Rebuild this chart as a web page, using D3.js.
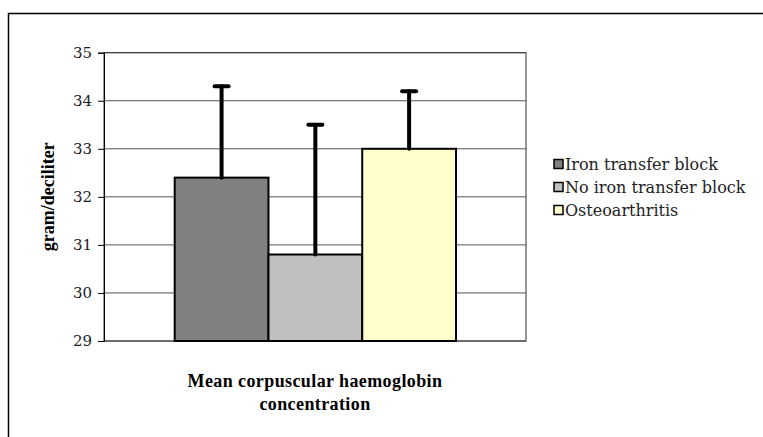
<!DOCTYPE html>
<html>
<head>
<meta charset="utf-8">
<script src="https://cdn.jsdelivr.net/npm/d3@7"></script>
<style>
  body { margin: 0; background: #fff; }
  svg text { font-family: "Liberation Serif", "DejaVu Serif", serif; }
  svg text.reg { font-family: "DejaVu Serif", serif; }
</style>
</head>
<body>
<script>
// data
var groups = ["Iron transfer block", "No iron transfer block", "Osteoarthritis"];
var means = [32.4, 30.8, 33.0];
var upperErr = [34.3, 33.5, 34.2];
var fills = ["#808080", "#c0c0c0", "#ffffcc"];
var yTicks = [29, 30, 31, 32, 33, 34, 35];
var categoryLines = ["Mean corpuscular haemoglobin", "concentration"];

var width = 763, height = 437;
var plot = { left: 104, right: 526, top: 52.7, bottom: 341 };

var svg = d3.select("body").append("svg")
    .attr("width", width)
    .attr("height", height);

// outer chart frame (runs off the right and bottom edge)
svg.append("rect")
    .attr("x", 8.5).attr("y", 13.5)
    .attr("width", 800).attr("height", 500)
    .attr("fill", "#fff").attr("stroke", "#000").attr("stroke-width", 1.5);

var y = d3.scaleLinear().domain([29, 35]).range([plot.bottom, plot.top]);
var x = d3.scaleBand().domain(groups).range([174.7, 456]).padding(0);

// gridlines
svg.append("g").selectAll("line")
    .data(yTicks)
    .join("line")
    .attr("x1", plot.left).attr("x2", plot.right)
    .attr("y1", function (d) { return y(d); })
    .attr("y2", function (d) { return y(d); })
    .attr("stroke", "#555").attr("stroke-width", 1);

// plot border
svg.append("rect")
    .attr("x", plot.left).attr("y", plot.top)
    .attr("width", plot.right - plot.left).attr("height", plot.bottom - plot.top)
    .attr("fill", "none").attr("stroke", "#333").attr("stroke-width", 1);

// y axis
var yAxis = d3.axisLeft(y).tickValues(yTicks).tickFormat(d3.format("d")).tickSize(6).tickPadding(6);
var ya = svg.append("g")
    .attr("transform", "translate(" + plot.left + ",0)")
    .call(yAxis)
    .attr("font-family", null);
ya.select(".domain").attr("stroke", "#000");
ya.selectAll(".tick line").attr("stroke", "#000");
ya.selectAll(".tick text")
    .attr("class", "reg")
    .attr("font-size", 15)
    .attr("fill", "#222");

// bars
svg.append("g").selectAll("rect")
    .data(groups)
    .join("rect")
    .attr("x", function (d) { return x(d); })
    .attr("y", function (d, i) { return y(means[i]); })
    .attr("width", x.bandwidth())
    .attr("height", function (d, i) { return y(29) - y(means[i]); })
    .attr("fill", function (d, i) { return fills[i]; })
    .attr("stroke", "#000").attr("stroke-width", 2);

// error bars
var eb = svg.append("g")
    .attr("stroke", "#000").attr("stroke-width", 4).attr("stroke-linecap", "round");
groups.forEach(function (g, i) {
    var cx = x(g) + x.bandwidth() / 2;
    eb.append("line")
        .attr("x1", cx).attr("x2", cx)
        .attr("y1", y(means[i])).attr("y2", y(upperErr[i]));
    eb.append("line")
        .attr("x1", cx - 7).attr("x2", cx + 7)
        .attr("y1", y(upperErr[i])).attr("y2", y(upperErr[i]));
});

// y axis title
svg.append("text")
    .attr("transform", "translate(50," + ((plot.top + plot.bottom) / 2) + ") rotate(-90)")
    .attr("text-anchor", "middle")
    .attr("dominant-baseline", "middle")
    .attr("font-size", 18).attr("font-weight", "bold")
    .text("gram/deciliter");

// category label
svg.append("g").selectAll("text")
    .data(categoryLines)
    .join("text")
    .attr("x", (plot.left + plot.right) / 2)
    .attr("y", function (d, i) { return 387 + i * 23; })
    .attr("text-anchor", "middle")
    .attr("font-size", 18).attr("font-weight", "bold")
    .attr("letter-spacing", 0.4)
    .text(function (d) { return d; });

// legend
var legend = svg.append("g").attr("transform", "translate(554,0)");
var items = legend.selectAll("g")
    .data(groups)
    .join("g")
    .attr("transform", function (d, i) { return "translate(0," + (164 + i * 23) + ")"; });
items.append("rect")
    .attr("x", 0).attr("y", -4.5)
    .attr("width", 9).attr("height", 9)
    .attr("fill", function (d, i) { return fills[i]; })
    .attr("stroke", "#000").attr("stroke-width", 1.5);
items.append("text")
    .attr("class", "reg")
    .attr("x", 11).attr("y", 6)
    .attr("font-size", 16)
    .attr("fill", "#222")
    .text(function (d) { return d; });
</script>
</body>
</html>
